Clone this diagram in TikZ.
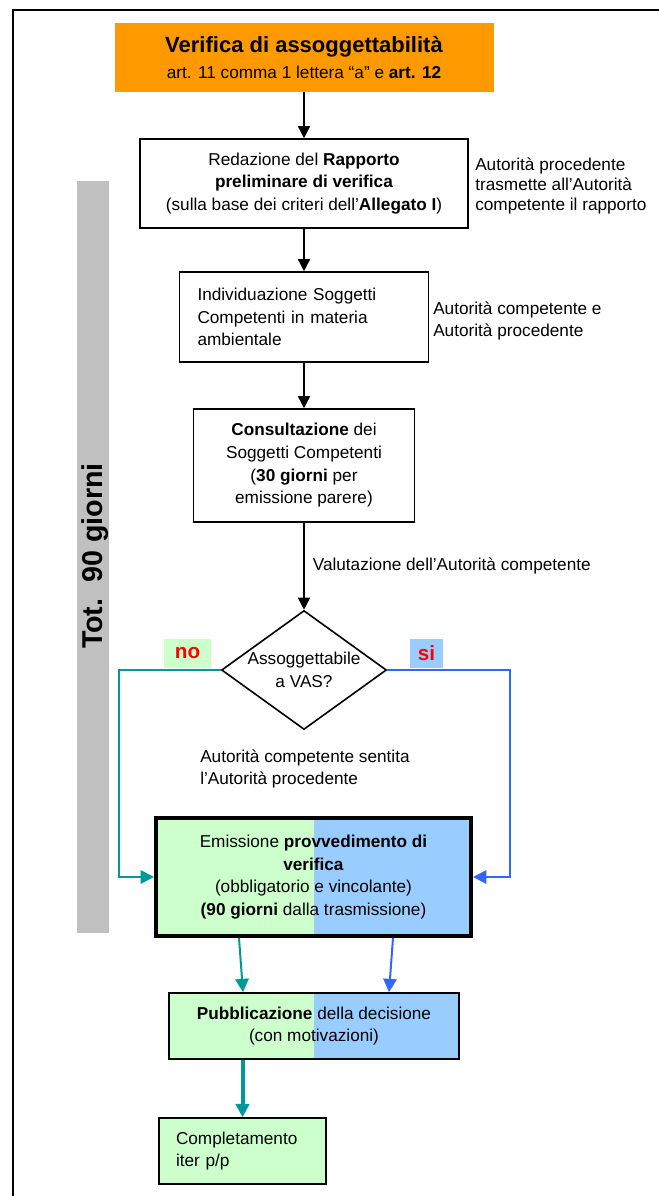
\documentclass[tikz,border=0pt]{standalone}
\usepackage{fontspec}
\setmainfont{Liberation Sans}
\usetikzlibrary{shapes.geometric,arrows.meta,calc}
\definecolor{arancio}{HTML}{FF9900}
\definecolor{verdino}{HTML}{CCFFCC}
\definecolor{azzurro}{HTML}{99CCFF}
\definecolor{grigio}{HTML}{C0C0C0}
\definecolor{ottanio}{HTML}{009999}
\definecolor{blu}{HTML}{3366FF}
\begin{document}
\begin{tikzpicture}[x=0.75pt,y=-0.75pt,
                every node/.style={font=\fontsize{12.9}{17}\selectfont,inner sep=0pt},
                box/.style={draw,line width=1.2pt,align=center},
                freccia/.style={line width=1.2pt,-{Triangle[length=9pt,width=9pt]}},
                verde/.style={ottanio,line width=1.5pt,-{Triangle[length=10pt,width=10pt]}},
                azzurra/.style={blu,line width=1.5pt,-{Triangle[length=10pt,width=10pt]}},
                duecolori/.style={fill=verdino,path picture={\fill[azzurro] (path picture bounding box.north) rectangle (path picture bounding box.south east);}}]
                \useasboundingbox (0,0) rectangle (659,1196);
                \draw[line width=1.6pt] (659,10) -- (13,10) -- (13,1196);
                \fill[grigio] (77,181) rectangle (109,933);
                \node[rotate=90,font=\bfseries\fontsize{21.5}{24}\selectfont] (tot) at (95,556) {Tot.\ \ 90 giorni};
                \node[fill=arancio,minimum width=284.25pt,minimum height=51.75pt,align=center] (verifica) at (304,57.5)
                    {{\bfseries\fontsize{16.5}{20}\selectfont Verifica di assoggettabilità}\\[2.5pt]art. 11 comma 1 lettera “a” e \textbf{art. 12}};
                \node[box,minimum width=246pt,minimum height=66.75pt] (redazione) at (304,183.5)
                    {Redazione del \textbf{Rapporto}\\\textbf{preliminare di verifica}\\(sulla base dei criteri dell’\textbf{Allegato I})};
                \node[anchor=west,align=left,font=\fontsize{12.9}{15}\selectfont] (trasmette) at (475,186)
                    {Autorità procedente\\trasmette all’Autorità\\competente il rapporto};
                \node[box,align=left,text width=159.75pt,inner xsep=13.5pt,minimum height=67.5pt] (individuazione) at (304,317)
                    {Individuazione Soggetti\\Competenti in materia\\ambientale};
                \node[anchor=west,align=left,font=\fontsize{12.9}{16.5}\selectfont] (autorita) at (433,321)
                    {Autorità competente e\\Autorità procedente};
                \node[box,minimum width=165.75pt,minimum height=84.75pt] (consultazione) at (304,465.5)
                    {\textbf{Consultazione} dei\\Soggetti Competenti\\(\textbf{30 giorni} per\\emissione parere)};
                \node[box,shape=diamond,aspect=1.39,inner sep=-2pt,minimum width=123.75pt,minimum height=89.25pt] (dia) at (304,670)
                    {Assoggettabile\\a VAS?};
                \node[fill=verdino,text=red,font=\bfseries\fontsize{15.5}{17}\selectfont,minimum width=35.25pt,minimum height=21.75pt] (no) at (187.5,653.5) {no};
                \node[fill=azzurro,text=red,font=\bfseries\fontsize{15.5}{17}\selectfont,minimum width=24.75pt,minimum height=21.75pt] (si) at (426.5,653.5) {si};
                \node[anchor=west,align=left] (sentita) at (200,769)
                    {Autorità competente sentita\\l’Autorità procedente};
                \node[box,duecolori,line width=3pt,minimum width=236.25pt,minimum height=88.5pt] (emis) at (313.5,877)
                    {Emissione \textbf{provvedimento di}\\\textbf{verifica}\\(obbligatorio e vincolante)\\\textbf{(90 giorni} dalla trasmissione)};
                \node[box,duecolori,minimum width=217.5pt,minimum height=49.5pt] (pubbl) at (314,1026)
                    {\textbf{Pubblicazione} della decisione\\(con motivazioni)};
                \node[box,fill=verdino,align=left,text width=99.75pt,inner xsep=12.75pt,minimum height=49.5pt] (compl) at (242.5,1151)
                    {Completamento\\iter p/p};
                \coordinate (nocorner) at (119,877);
                \coordinate (sicorner) at (510,877);
                \draw[freccia] (verifica.south) -- (redazione.north);
                \draw[freccia] (redazione.south) -- (individuazione.north);
                \draw[freccia] (individuazione.south) -- (consultazione.north);
                \draw[freccia] (consultazione.south) -- (dia.north) node[midway,right,xshift=6pt] {Valutazione dell’Autorità competente};
                \draw[verde] (dia.west) -| (nocorner) -- (emis.west);
                \draw[azzurra] (dia.east) -| (sicorner) -- (emis.east);
                \draw[verde] ($(emis.south)+(-74.5,0)$) -- ($(pubbl.north)+(-71,0)$);
                \draw[azzurra] ($(emis.south)+(79.5,0)$) -- ($(pubbl.north)+(75,0)$);
                \draw[ottanio,line width=3pt,-{Triangle[length=10pt,width=10pt]}] ($(pubbl.south)+(-71.5,0)$) -- (compl.north);
            \end{tikzpicture}
\end{document}
